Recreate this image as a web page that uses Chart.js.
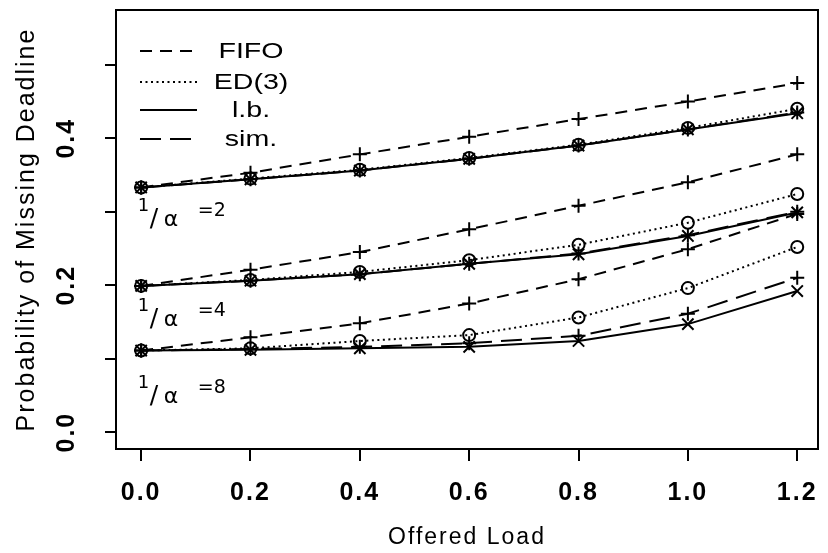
<!DOCTYPE html>
<html>
<head>
<meta charset="utf-8">
<script src="https://cdn.jsdelivr.net/npm/chart.js@4.4.1/dist/chart.umd.min.js"></script>
<style>
html,body{margin:0;padding:0;background:#fff;}
#wrap{width:828px;height:553px;}
</style>
</head>
<body>
<div id="wrap"><canvas id="c" width="828" height="553"></canvas></div>
<script>
// ---------- data ----------
const offeredLoad = [0.0, 0.2, 0.4, 0.6, 0.8, 1.0, 1.2];
const xTickValues = [0.0, 0.2, 0.4, 0.6, 0.8, 1.0, 1.2];
const xTickLabels = ['0.0', '0.2', '0.4', '0.6', '0.8', '1.0', '1.2'];
const yTickValues = [0.0, 0.1, 0.2, 0.3, 0.4, 0.5];
const yTickLabels = ['0.0', '', '0.2', '', '0.4', ''];
const methodNames = ['FIFO', 'ED(3)', 'l.b.', 'sim.'];
const alphaGroups = ['2', '4', '8'];

// 1/alpha = 2
const fifoA2 = [0.333, 0.353, 0.378, 0.402, 0.426, 0.450, 0.475];
const ed3A2  = [0.333, 0.345, 0.357, 0.373, 0.391, 0.414, 0.440];
const lbA2   = [0.333, 0.344, 0.356, 0.372, 0.390, 0.412, 0.434];
const simA2  = [0.333, 0.344, 0.356, 0.372, 0.390, 0.412, 0.435];
// 1/alpha = 4
const fifoA4 = [0.199, 0.221, 0.245, 0.276, 0.308, 0.340, 0.378];
const ed3A4  = [0.199, 0.207, 0.218, 0.234, 0.255, 0.285, 0.324];
const lbA4   = [0.199, 0.206, 0.215, 0.229, 0.242, 0.267, 0.299];
const simA4  = [0.199, 0.206, 0.215, 0.229, 0.243, 0.268, 0.300];
// 1/alpha = 8
const fifoA8 = [0.111, 0.129, 0.148, 0.175, 0.208, 0.249, 0.297];
const ed3A8  = [0.111, 0.114, 0.124, 0.132, 0.156, 0.196, 0.252];
const lbA8   = [0.111, 0.112, 0.114, 0.116, 0.124, 0.147, 0.192];
const simA8  = [0.111, 0.113, 0.116, 0.121, 0.131, 0.161, 0.210];

const seriesByGroup = [
  [fifoA2, ed3A2, lbA2, simA2],
  [fifoA4, ed3A4, lbA4, simA4],
  [fifoA8, ed3A8, lbA8, simA8]
];

// ---------- styles ----------
const methodStyles = [
  { dash: [12, 8],  pointStyle: 'cross',    radius: 7 },
  { dash: [2, 3.5], pointStyle: 'circle',   radius: 6 },
  { dash: [],       pointStyle: 'crossRot', radius: 8 },
  { dash: [21, 9],  pointStyle: 'cross',    radius: 7 }
];

const datasets = [];
seriesByGroup.forEach((group, g) => {
  group.forEach((vals, m) => {
    const st = methodStyles[m];
    datasets.push({
      label: methodNames[m] + ' (1/\u03b1=' + alphaGroups[g] + ')',
      data: offeredLoad.map((x, i) => ({ x: x, y: vals[i] })),
      borderColor: '#000',
      backgroundColor: 'rgba(0,0,0,0)',
      borderWidth: 2,
      borderDash: st.dash,
      pointStyle: st.pointStyle,
      pointRadius: st.radius,
      pointBorderWidth: 2,
      pointBorderColor: '#000',
      pointBackgroundColor: 'rgba(0,0,0,0)',
      tension: 0,
      fill: false
    });
  });
});

const customPlugin = {
  id: 'custom',
  beforeDraw(chart) {
    const ctx = chart.ctx;
    ctx.save();
    ctx.fillStyle = '#fff';
    ctx.fillRect(0, 0, chart.width, chart.height);
    ctx.restore();
    try { ctx.letterSpacing = '2px'; } catch (e) {}
  },
  afterDraw(chart) {
    const ctx = chart.ctx;
    const a = chart.chartArea;
    const xs = chart.scales.x, ys = chart.scales.y;
    ctx.save();
    try { ctx.letterSpacing = '0px'; } catch (e) {}
    // frame
    ctx.strokeStyle = '#000';
    ctx.lineWidth = 2;
    ctx.setLineDash([]);
    ctx.strokeRect(a.left, a.top, a.right - a.left, a.bottom - a.top);

    // legend
    const rowY = [41, 72, 100, 129];
    const lx0 = a.left + 24, lx1 = a.left + 81, tx = a.left + 135;
    ctx.fillStyle = '#000';
    ctx.textBaseline = 'middle';
    ctx.textAlign = 'center';
    methodNames.forEach((name, m) => {
      const y = a.top + rowY[m];
      ctx.beginPath();
      ctx.lineWidth = 2;
      ctx.setLineDash(methodStyles[m].dash);
      ctx.moveTo(lx0, y);
      ctx.lineTo(lx1, y);
      ctx.stroke();
      ctx.setLineDash([]);
      ctx.save();
      ctx.translate(tx, y + 1);
      ctx.scale(1.3, 1);
      ctx.font = '22px "Liberation Sans", Arial, sans-serif';
      ctx.fillText(name, 0, 0);
      ctx.restore();
    });

    // group labels 1/alpha = n
    const labelAnchors = [0.3008, 0.1653, 0.0596];
    ctx.textAlign = 'left';
    ctx.textBaseline = 'alphabetic';
    alphaGroups.forEach((n, g) => {
      const x = xs.getPixelForValue(-0.006);
      const y = ys.getPixelForValue(labelAnchors[g]);
      ctx.font = '18px "DejaVu Sans", sans-serif';
      ctx.fillText('1', x, y);
      ctx.font = '25px "DejaVu Sans", sans-serif';
      ctx.fillText('/', x + 12, y + 15);
      ctx.font = '22px "DejaVu Sans", sans-serif';
      ctx.fillText('\u03b1', x + 26, y + 15);
      ctx.font = '19px "DejaVu Sans", sans-serif';
      ctx.fillText('=' + n, x + 60, y + 5);
    });
    ctx.restore();
  }
};

const tickFont = { family: '"Liberation Sans", Arial, sans-serif', size: 25, weight: 'bold' };

new Chart(document.getElementById('c'), {
  type: 'line',
  data: { datasets: datasets },
  options: {
    responsive: false,
    animation: false,
    layout: { padding: { top: 8, right: 6, left: 0, bottom: 0 } },
    plugins: { legend: { display: false }, tooltip: { enabled: false } },
    scales: {
      x: {
        type: 'linear',
        min: -0.046,
        max: 1.238,
        afterBuildTicks: s => { s.ticks = xTickValues.map(v => ({ value: v })); },
        afterFit: s => { s.height = 104; s.paddingLeft = 0; s.paddingRight = 0; },
        grid: { display: true, drawOnChartArea: false, tickLength: 12, color: '#000', lineWidth: 2 },
        border: { display: false },
        ticks: {
          autoSkip: false, maxRotation: 0, minRotation: 0, padding: 17,
          color: '#000', font: tickFont,
          callback: (v, i) => xTickLabels[i]
        },
        title: {
          display: true, text: 'Offered Load', color: '#000',
          font: { family: '"Liberation Sans", Arial, sans-serif', size: 23 },
          padding: 2
        }
      },
      y: {
        type: 'linear',
        min: -0.023,
        max: 0.5745,
        afterBuildTicks: s => { s.ticks = yTickValues.map(v => ({ value: v })); },
        afterFit: s => { s.width = 116; s.paddingTop = 0; s.paddingBottom = 0; },
        grid: { display: true, drawOnChartArea: false, tickLength: 11, color: '#000', lineWidth: 2 },
        border: { display: false },
        ticks: {
          autoSkip: false, minRotation: 90, maxRotation: 90, padding: 21,
          crossAlign: 'center',
          color: '#000', font: tickFont,
          callback: (v, i) => yTickLabels[i]
        },
        title: {
          display: true, text: 'Probability of Missing Deadline', color: '#000',
          font: { family: '"Liberation Sans", Arial, sans-serif', size: 25 },
          padding: 12
        }
      }
    }
  },
  plugins: [customPlugin]
});
</script>
</body>
</html>
